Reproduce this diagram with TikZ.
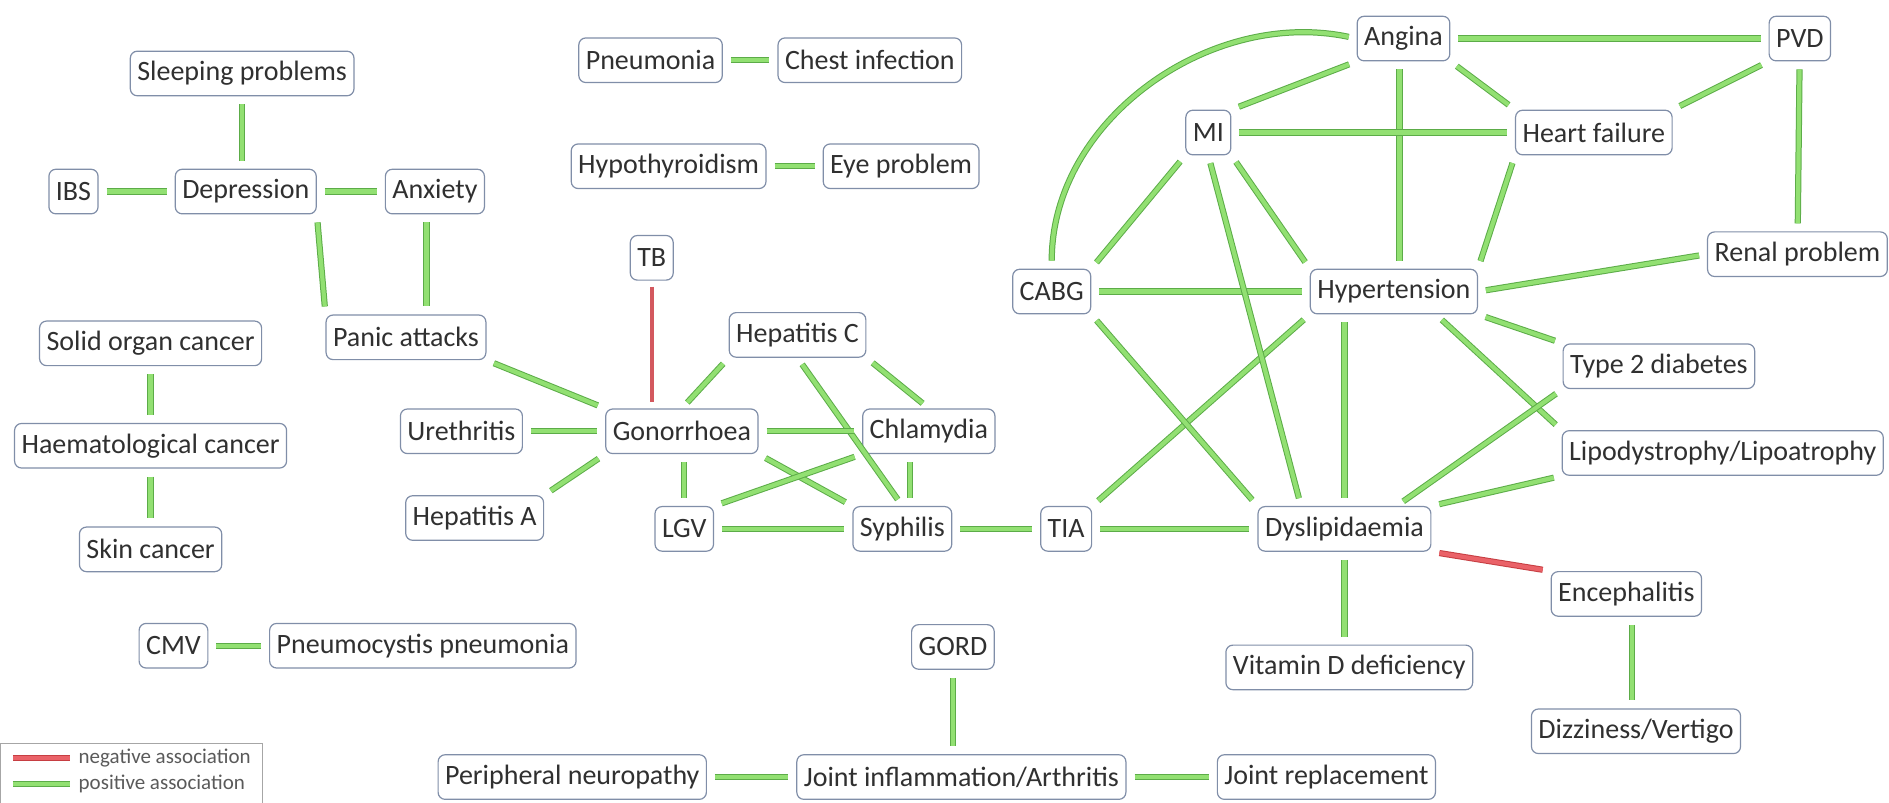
\documentclass[tikz,border=0pt]{standalone}
\usepackage{fontspec}
\setmainfont{Carlito}
\usepackage{tikz}
\usetikzlibrary{calc}
\definecolor{posfill}{RGB}{146,224,114}
\definecolor{posborder}{RGB}{92,172,72}
\definecolor{negfill}{RGB}{234,98,104}
\definecolor{negborder}{RGB}{198,62,66}
\definecolor{nodeborder}{RGB}{128,142,168}
\definecolor{textgray}{RGB}{48,48,48}
\tikzstyle{disease} = [rectangle,rounded corners=3.5pt,draw=nodeborder,line width=0.6pt,fill=white,text=textgray,font=\fontsize{14}{16}\selectfont,inner xsep=3.5pt,minimum height=22.3pt]
\tikzstyle{posline} = [draw=posborder,double=posfill,line width=0.5pt,double distance=2.1pt,shorten >=4pt,shorten <=4pt]
\tikzstyle{negline} = [draw=negborder,double=negfill,line width=0.5pt,double distance=2.1pt,shorten >=4pt,shorten <=4pt]
\tikzstyle{negthin} = [draw=negfill!90!black,line width=1.8pt,shorten >=3pt,shorten <=3pt]
\tikzstyle{legendtext} = [anchor=west,text=textgray!80,font=\fontsize{10.5}{12}\selectfont,inner sep=0pt]

\begin{document}
\begin{tikzpicture}[x=0.6024pt,y=-0.6024pt]
\useasboundingbox (0,0) rectangle (1568,666);

% mental health
\node (sleep) [disease] at (201,61) {Sleeping problems};
\node (ibs) [disease] at (61,159) {IBS};
\node (dep) [disease] at (204,159) {Depression};
\node (anx) [disease] at (361,159) {Anxiety};
\node (panic) [disease] at (337,280) {Panic attacks};

% cancers
\node (solid) [disease] at (125,285) {Solid organ cancer};
\node (haem) [disease] at (125,370) {Haematological cancer};
\node (skin) [disease] at (125,456) {Skin cancer};
\node (cmv) [disease] at (144,536) {CMV};
\node (pcp) [disease] at (351,536) {Pneumocystis pneumonia};

\node (pneu) [disease] at (540,50) {Pneumonia};
\node (chest) [disease] at (722,50) {Chest infection};
\node (hypo) [disease] at (555,138) {Hypothyroidism};
\node (eye) [disease] at (748,138) {Eye problem};

% infections
\node (tb) [disease] at (541,214) {TB};
\node (hepc) [disease] at (662,278) {Hepatitis C};
\node (ureth) [disease] at (383,358) {Urethritis};
\node (gon) [disease] at (566,358) {Gonorrhoea};
\node (chlam) [disease] at (771,358) {Chlamydia};
\node (hepa) [disease] at (394,430) {Hepatitis A};
\node (lgv) [disease] at (568,439) {LGV};
\node (syph) [disease] at (749,439) {Syphilis};
\node (tia) [disease] at (885,439) {TIA};

% joints
\node (gord) [disease] at (791,537) {GORD};
\node (neuro) [disease] at (475,645) {Peripheral neuropathy};
\node (joint) [disease] at (798,645) {Joint inflammation/Arthritis};
\node (jrep) [disease] at (1101,645) {Joint replacement};

% cardiovascular
\node (angina) [disease] at (1165,32) {Angina};
\node (pvd) [disease] at (1494,32) {PVD};
\node (mi) [disease] at (1003,110) {MI};
\node (hf) [disease] at (1323,110) {Heart failure};
\node (cabg) [disease] at (873,242) {CABG};
\node (hyp) [disease] at (1157,242) {Hypertension};
\node (renal) [disease] at (1492,211) {Renal problem};
\node (t2d) [disease] at (1377,304) {Type 2 diabetes};
\node (lipo) [disease] at (1430,376) {Lipodystrophy/Lipoatrophy};
\node (dys) [disease] at (1116,439) {Dyslipidaemia};
\node (enceph) [disease] at (1350,493) {Encephalitis};
\node (vitd) [disease] at (1120,554) {Vitamin D deficiency};
\node (dizzy) [disease] at (1358,607) {Dizziness/Vertigo};

\draw [posline] (sleep.south) -- (sleep.south |- dep.north);
\draw [posline] (ibs) -- (dep);
\draw [posline] (dep) -- (anx);
\draw [posline] (dep.south east) -- (panic.north west);
\draw [posline] (anx.250) -- (anx.250 |- panic.north);
\draw [posline] (panic.south east) -- (gon.north west);
\draw [posline] (solid) -- (haem);
\draw [posline] (haem) -- (skin);
\draw [posline] (cmv) -- (pcp);
\draw [posline] (pneu) -- (chest);
\draw [posline] (hypo) -- (eye);

\draw [negthin] (tb) -- (tb |- gon.north);
\draw [posline] (hepc.south west) -- (gon.north);
\draw [posline] (hepc.south east) -- (chlam.north);
\draw [posline] (hepc.south) -- (syph.north);
\draw [posline] (ureth) -- (gon);
\draw [posline] (hepa.north east) -- (gon.south west);
\draw [posline] (gon) -- (chlam);
\draw [posline] (lgv.north |- gon.south) -- (lgv.north);
\draw [posline] (gon.south east) -- (syph.north west);
\draw [posline] (chlam.south west) -- (lgv.north east);
\draw [posline] ([xshift=4pt]syph.north) -- ([xshift=4pt]syph.north |- chlam.south);
\draw [posline] (lgv) -- (syph);
\draw [posline] (syph) -- (tia);
\draw [posline] (tia) -- (dys);
\draw [posline] (tia.north east) -- (hyp.south west);

\draw [posline] (cabg) -- (hyp);
\draw [posline] (cabg.south east) -- (dys.north west);
\draw [posline] (cabg.north east) -- (mi.south west);
\draw [posline] (cabg.north) to [out=90,in=168] (angina.west);
\draw [posline] (angina) -- (pvd);
\draw [posline] (angina.south west) -- (mi.north east);
\draw [posline] ([xshift=-2pt]angina.south) -- ([xshift=-2pt]angina.south |- hyp.north);
\draw [posline] (angina.south east) -- (hf.north west);
\draw [posline] (pvd.south west) -- (hf.north east);
\draw [posline] (pvd) -- (renal);
\draw [posline] (mi) -- (hf);
\draw [posline] (mi.south east) -- (hyp.north west);
\draw [posline] (mi.south) -- ($(dys.north west)!0.25!(dys.north east)$);
\draw [posline] (hf.south west) -- (hyp.north east);
\draw [posline] (hyp.east) -- (renal.west);
\draw [posline] (hyp.south east) -- (t2d.north west);
\draw [posline] ($(hyp.south)!0.5!(hyp.south east)$) -- (lipo.north west);
\draw [posline] (dys.north) -- (dys.north |- hyp.south);
\draw [posline] (t2d.south west) -- ($(dys.north)!0.6!(dys.north east)$);
\draw [posline] (lipo.south west) -- (dys.north east);
\draw [negline] (dys.south east) -- (enceph.north west);
\draw [posline] (dys.south) -- (dys.south |- vitd.north);
\draw [posline] ([xshift=3pt]enceph.south) -- ([xshift=3pt]enceph.south |- dizzy.north);
\draw [posline] (gord.south) -- (gord.south |- joint.north);
\draw [posline] (neuro) -- (joint);
\draw [posline] (joint) -- (jrep);

% legend
\draw [draw=gray!70,line width=0.8pt] (0.5,617) rectangle (218,670);
\node (negtxt) [legendtext] at (65,629) {negative association};
\node (postxt) [legendtext] at (65,651) {positive association};
\coordinate (negstart) at (4,629);
\coordinate (posstart) at (4,651);
\draw [negline] (negstart) -- (negtxt.west);
\draw [posline] (posstart) -- (postxt.west);
\end{tikzpicture}
\end{document}
